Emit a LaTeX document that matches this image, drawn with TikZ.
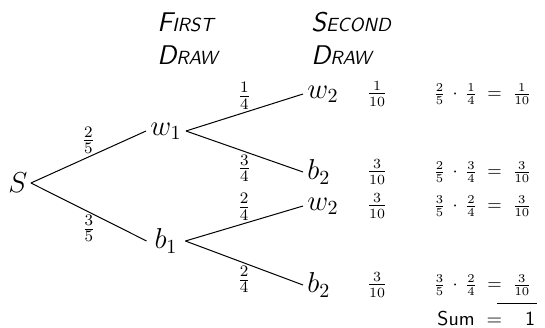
\documentclass[tikz,border=0pt]{standalone}
\usepackage{amsmath}
\usetikzlibrary{positioning}
\tikzset{
  tnode/.style={inner sep=2pt,font=\fontsize{14}{16}\selectfont},
  plabel/.style={inner sep=1.5pt,font=\fontsize{11}{13}\selectfont},
  probcol/.style={inner sep=0pt,font=\fontsize{10.5}{12}\selectfont},
  prodcol/.style={inner sep=0pt,anchor=west,font=\fontsize{9}{10}\selectfont},
  head/.style={inner sep=0pt,anchor=west,font=\sffamily\slshape},
  branch/.style={line width=0.5pt}
}
\newcommand{\hdr}[2]{{\fontsize{13.5}{15}\selectfont #1}{\fontsize{9.5}{11}\selectfont #2}}
\newcommand{\prodrow}[3]{$#1\,\cdot\,#2\;=\;#3$}

\begin{document}
\begin{tikzpicture}[x=0.5pt,y=-0.5pt]
  \useasboundingbox (0,0) rectangle (545,327);
  % column headings
  \node[head] (first)   at (157,22) {\hdr{F}{IRST}};
  \node[head] (draw1)   at (157,55) {\hdr{D}{RAW}};
  \node[head] (second)  at (311,22) {\hdr{S}{ECOND}};
  \node[head] (draw2)   at (311,55) {\hdr{D}{RAW}};
  % tree
  \node[tnode,inner sep=1.5pt] (S) at (18,183) {$S$};
  \node[tnode,minimum width=19pt] (w1) at (166,131) {$w_1$};
  \node[tnode,minimum width=19pt] (b1) at (166,241) {$b_1$};
  \node[tnode,anchor=west] (w2a) at (303,94)  {$w_2$};
  \node[tnode,anchor=west] (b2a) at (303,172) {$b_2$};
  \node[tnode,anchor=west] (w2b) at (303,206) {$w_2$};
  \node[tnode,anchor=west] (b2b) at (303,285) {$b_2$};
  \draw[branch] (S.east) -- node[plabel,above] (p25) {$\frac{2}{5}$} (w1.west);
  \draw[branch] (S.east) -- node[plabel,below] (p35) {$\frac{3}{5}$} (b1.west);
  \draw[branch] (w1.east) -- node[plabel,above] (p14) {$\frac{1}{4}$} (w2a.west);
  \draw[branch] (w1.east) -- node[plabel,below] (p34) {$\frac{3}{4}$} (b2a.west);
  \draw[branch] (b1.east) -- node[plabel,above] (p24a) {$\frac{2}{4}$} (w2b.west);
  \draw[branch] (b1.east) -- node[plabel,below] (p24b) {$\frac{2}{4}$} (b2b.west);
  % outcome probabilities
  \node[probcol] (q1) at (377,94)  {$\frac{1}{10}$};
  \node[probcol] (q2) at (377,172) {$\frac{3}{10}$};
  \node[probcol] (q3) at (377,206) {$\frac{3}{10}$};
  \node[probcol] (q4) at (377,285) {$\frac{3}{10}$};
  \node[prodcol] (r1) at (433,94)  {\prodrow{\frac{2}{5}}{\frac{1}{4}}{\frac{1}{10}}};
  \node[prodcol] (r2) at (433,172) {\prodrow{\frac{2}{5}}{\frac{3}{4}}{\frac{3}{10}}};
  \node[prodcol] (r3) at (433,206) {\prodrow{\frac{3}{5}}{\frac{2}{4}}{\frac{3}{10}}};
  \node[prodcol] (r4) at (433,285) {\prodrow{\frac{3}{5}}{\frac{2}{4}}{\frac{3}{10}}};
  % total
  \node[inner sep=0pt,anchor=west,font=\sffamily] (sum) at (437,319) {Sum\hspace{6pt}$=$};
  \node[inner sep=0pt,font=\sffamily] (tot) at (530,319) {1};
  \coordinate (barL) at (497,303);
  \coordinate (barR) at (537,303);
  \draw[branch] (barL) -- (barR);
\end{tikzpicture}
\end{document}
